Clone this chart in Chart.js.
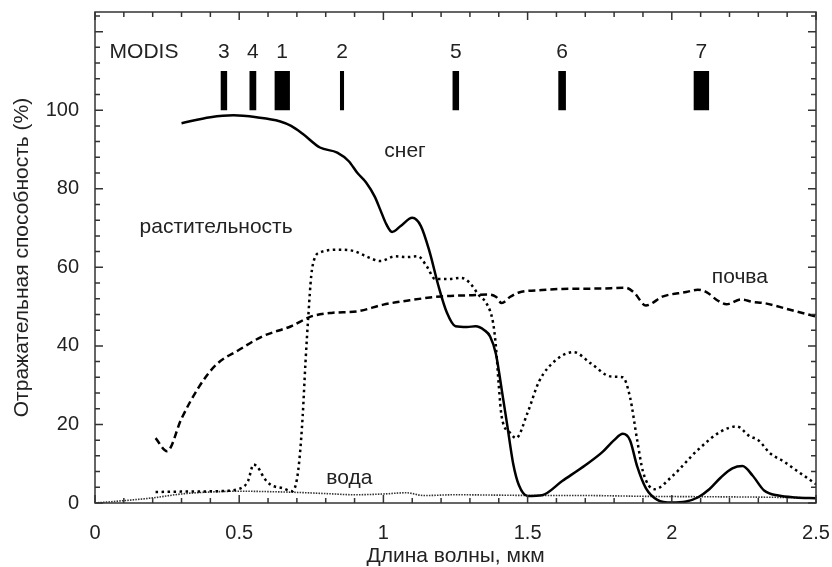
<!DOCTYPE html>
<html>
<head>
<meta charset="utf-8">
<script src="https://cdn.jsdelivr.net/npm/chart.js@4.4.1/dist/chart.umd.min.js"></script>
<style>
  html, body { margin: 0; padding: 0; background: #fff; }
  #wrap { width: 832px; height: 567px; position: relative; }
</style>
</head>
<body>
<div id="wrap"><canvas id="chart"></canvas></div>
<script>
// Снег (сплошная линия)
const snowX = [0.30, 0.40, 0.48, 0.56, 0.64, 0.68, 0.72, 0.78, 0.84, 0.88, 0.91, 0.94, 0.97, 0.99, 1.01, 1.03, 1.06, 1.10, 1.13, 1.16, 1.19, 1.22, 1.25, 1.29, 1.32, 1.35, 1.37, 1.39, 1.41, 1.43, 1.45, 1.47, 1.50, 1.55, 1.62, 1.70, 1.76, 1.80, 1.83, 1.855, 1.88, 1.91, 1.95, 2.00, 2.05, 2.09, 2.13, 2.17, 2.21, 2.245, 2.28, 2.32, 2.37, 2.43, 2.50];
const snowY = [96.7, 98.2, 98.7, 98.2, 97.2, 96.0, 94.0, 90.5, 89.2, 87.0, 84.0, 81.6, 78.0, 74.5, 71.0, 69.0, 70.5, 72.6, 70.5, 64.0, 55.5, 48.5, 45.0, 44.8, 45.0, 44.0, 42.4, 38.0, 29.0, 19.5, 10.0, 4.5, 1.8, 2.0, 5.6, 9.6, 13.0, 16.0, 17.6, 16.0, 9.3, 3.8, 0.8, 0.1, 0.4, 1.4, 3.5, 6.5, 8.8, 9.4, 7.0, 3.2, 1.9, 1.4, 1.2];

// Растительность (точки)
const vegX = [0.21, 0.30, 0.42, 0.50, 0.53, 0.55, 0.57, 0.585, 0.61, 0.65, 0.685, 0.70, 0.71, 0.72, 0.73, 0.74, 0.75, 0.76, 0.78, 0.85, 0.90, 0.94, 0.99, 1.04, 1.08, 1.12, 1.15, 1.18, 1.22, 1.27, 1.30, 1.33, 1.36, 1.38, 1.39, 1.40, 1.41, 1.44, 1.46, 1.50, 1.54, 1.60, 1.66, 1.72, 1.79, 1.83, 1.855, 1.88, 1.90, 1.94, 2.00, 2.09, 2.17, 2.225, 2.27, 2.30, 2.34, 2.39, 2.43, 2.50];
const vegY = [2.8, 2.9, 3.0, 3.6, 5.5, 9.8, 8.5, 6.5, 4.6, 3.8, 3.0, 6.0, 12.0, 22.0, 36.0, 48.0, 58.0, 62.0, 63.8, 64.5, 64.1, 62.8, 61.6, 62.8, 62.6, 62.8, 60.3, 57.0, 57.0, 57.3, 56.0, 53.0, 50.5, 46.0, 40.0, 30.0, 22.0, 17.8, 16.5, 23.0, 31.0, 36.5, 38.4, 35.5, 32.2, 32.0, 27.0, 16.0, 8.0, 3.5, 6.7, 13.5, 18.2, 19.5, 17.0, 16.0, 12.7, 10.5, 8.4, 4.8];

// Почва (штрихи)
const soilX = [0.21, 0.25, 0.30, 0.36, 0.42, 0.50, 0.58, 0.68, 0.75, 0.82, 0.91, 1.00, 1.09, 1.20, 1.30, 1.36, 1.39, 1.41, 1.44, 1.47, 1.55, 1.62, 1.75, 1.84, 1.87, 1.91, 1.97, 2.05, 2.09, 2.12, 2.16, 2.19, 2.24, 2.28, 2.32, 2.41, 2.50];
const soilY = [16.5, 13.2, 21.5, 29.5, 35.2, 39.0, 42.4, 45.0, 47.5, 48.4, 48.8, 50.5, 51.6, 52.6, 52.9, 53.1, 52.5, 50.9, 52.5, 53.6, 54.2, 54.5, 54.6, 54.8, 53.5, 50.3, 52.6, 53.7, 54.3, 53.7, 51.5, 50.6, 51.8, 51.2, 50.9, 49.2, 47.5];

// Вода (мелкие точки)
const waterX = [0.00, 0.10, 0.20, 0.30, 0.40, 0.50, 0.60, 0.70, 0.80, 0.90, 1.00, 1.08, 1.14, 1.25, 1.40, 1.55, 1.70, 1.90, 2.10, 2.30, 2.50];
const waterY = [0.0, 0.6, 1.3, 2.3, 2.8, 3.0, 2.9, 2.7, 2.4, 2.1, 2.3, 2.6, 1.9, 2.1, 2.0, 1.9, 1.9, 1.7, 1.6, 1.5, 1.3];

// Каналы MODIS (мкм)
const bandNames = ['3', '4', '1', '2', '5', '6', '7'];
const bandStart = [0.435, 0.535, 0.622, 0.849, 1.239, 1.606, 2.075];
const bandEnd   = [0.459, 0.560, 0.676, 0.864, 1.263, 1.633, 2.130];
const bandLow = 100, bandHigh = 110;

const xTickLabels = ['0', '0.5', '1', '1.5', '2', '2.5'];
const yTickLabels = ['0', '20', '40', '60', '80', '100'];

const pts = (xs, ys) => xs.map((x, i) => ({ x, y: ys[i] }));

const FONT = "'Liberation Sans', Arial, sans-serif";
Chart.defaults.font.family = FONT;
Chart.defaults.font.size = 20;
Chart.defaults.color = '#222';

const line = (data, extra) => Object.assign({
  data, borderColor: '#000', pointRadius: 0, fill: false,
  cubicInterpolationMode: 'monotone', borderCapStyle: 'butt'
}, extra);

const bandSets = bandNames.map((n, i) => ({
  data: [{ x: bandStart[i], y: bandHigh }, { x: bandEnd[i], y: bandHigh }],
  borderWidth: 0, borderColor: '#000', backgroundColor: '#000',
  pointRadius: 0, fill: { value: bandLow }
}));

// Надписи на графике (в координатах данных)
const notes = [
  { t: 'MODIS', x: 0.17, y: 114.8 },
  { t: 'снег', x: 1.075, y: 89.5 },
  { t: 'растительность', x: 0.42, y: 70.2 },
  { t: 'почва', x: 2.236, y: 57.4 },
  { t: 'вода', x: 0.882, y: 6.4 }
];

const frameTicks = {
  id: 'frameTicks',
  afterDatasetsDraw(chart) {
    const { ctx, chartArea: a, scales: { x, y } } = chart;
    ctx.save();
    ctx.strokeStyle = '#333';
    ctx.lineWidth = 1.5;
    ctx.strokeRect(a.left, a.top, a.right - a.left, a.bottom - a.top);
    ctx.beginPath();
    for (let i = 0; i <= 25; i++) {
      const px = x.getPixelForValue(i / 10), len = i % 5 === 0 ? 8 : 5;
      ctx.moveTo(px, a.bottom); ctx.lineTo(px, a.bottom - len);
      ctx.moveTo(px, a.top); ctx.lineTo(px, a.top + len);
    }
    for (let v = 0; v <= 124; v += 4) {
      const py = y.getPixelForValue(v), len = v % 20 === 0 ? 8 : 5;
      ctx.moveTo(a.left, py); ctx.lineTo(a.left + len, py);
      ctx.moveTo(a.right, py); ctx.lineTo(a.right - len, py);
    }
    ctx.stroke();

    // подписи
    ctx.fillStyle = '#222';
    ctx.font = '21px ' + FONT;
    ctx.textAlign = 'center';
    ctx.textBaseline = 'middle';
    notes.forEach(n => ctx.fillText(n.t, x.getPixelForValue(n.x), y.getPixelForValue(n.y)));
    bandNames.forEach((n, i) => {
      ctx.fillText(n, x.getPixelForValue((bandStart[i] + bandEnd[i]) / 2), y.getPixelForValue(114.8));
    });
    ctx.restore();
  }
};

new Chart(document.getElementById('chart'), {
  type: 'line',
  data: {
    datasets: [
      line(pts(snowX, snowY), { borderWidth: 2.5 }),
      line(pts(vegX, vegY), { borderWidth: 2.5, borderDash: [2.5, 3.5] }),
      line(pts(soilX, soilY), { borderWidth: 2.5, borderDash: [7, 4] }),
      line(pts(waterX, waterY), { borderWidth: 1.6, borderDash: [1.5, 1.2], borderColor: '#333' }),
      ...bandSets
    ]
  },
  options: {
    responsive: true,
    maintainAspectRatio: false,
    animation: false,
    layout: { padding: { top: 12, right: 16, left: 0, bottom: 0 } },
    plugins: { legend: { display: false }, tooltip: { enabled: false } },
    scales: {
      x: {
        type: 'linear', min: 0, max: 2.5,
        grid: { display: false }, border: { display: false },
        ticks: { stepSize: 0.5, padding: 10, maxRotation: 0,
          callback: (v, i) => xTickLabels[i] ?? '' },
        title: { display: true, text: 'Длина волны, мкм', font: { size: 21 }, padding: { top: 0, bottom: -2 } },
        afterFit: s => { s.height = 64; s.paddingLeft = 0; s.paddingRight = 0; }
      },
      y: {
        type: 'linear', min: 0, max: 125,
        grid: { display: false }, border: { display: false },
        ticks: { stepSize: 20, padding: 8,
          callback: (v, i) => yTickLabels[i] ?? '' },
        title: { display: true, text: 'Отражательная способность (%)', font: { size: 21 }, padding: { top: 10, bottom: 0 } },
        afterFit: s => { s.width = 95; s.paddingTop = 0; s.paddingBottom = 0; }
      }
    }
  },
  plugins: [frameTicks]
});
</script>
</body>
</html>
